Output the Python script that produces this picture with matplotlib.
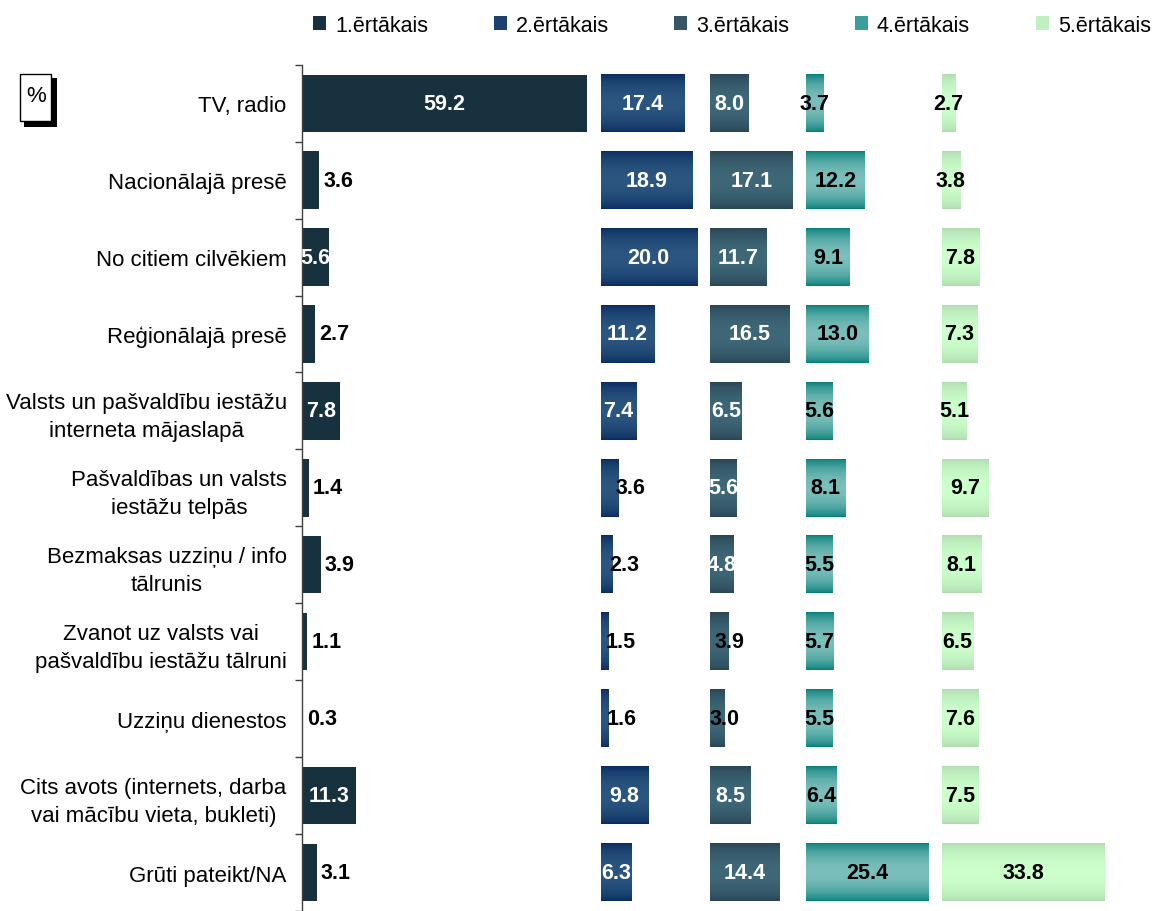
import numpy as np
import matplotlib
matplotlib.use("Agg")
import matplotlib.pyplot as plt
from matplotlib.colors import LinearSegmentedColormap
from matplotlib.patches import Patch, Rectangle

categories = [
    "TV, radio",
    "Nacionālajā presē",
    "No citiem cilvēkiem",
    "Reģionālajā presē",
    "Valsts un pašvaldību iestāžu\ninterneta mājaslapā",
    "Pašvaldības un valsts\niestāžu telpās",
    "Bezmaksas uzziņu / info\ntālrunis",
    "Zvanot uz valsts vai\npašvaldību iestāžu tālruni",
    "Uzziņu dienestos",
    "Cits avots (internets, darba\nvai mācību vieta, bukleti)",
    "Grūti pateikt/NA",
]
series_names = ["1.ērtākais", "2.ērtākais", "3.ērtākais", "4.ērtākais", "5.ērtākais"]
v1 = [59.2, 3.6, 5.6, 2.7, 7.8, 1.4, 3.9, 1.1, 0.3, 11.3, 3.1]
v2 = [17.4, 18.9, 20.0, 11.2, 7.4, 3.6, 2.3, 1.5, 1.6, 9.8, 6.3]
v3 = [8.0, 17.1, 11.7, 16.5, 6.5, 5.6, 4.8, 3.9, 3.0, 8.5, 14.4]
v4 = [3.7, 12.2, 9.1, 13.0, 5.6, 8.1, 5.5, 5.7, 5.5, 6.4, 25.4]
v5 = [2.7, 3.8, 7.8, 7.3, 5.1, 9.7, 8.1, 6.5, 7.6, 7.5, 33.8]
series = [v1, v2, v3, v4, v5]

# edge colour / middle colour of the vertical gradient
edge_cols = ["#17313f", "#0a2d5f", "#2a4555", "#07807a", "#b0ddb0"]
mid_cols = ["#17313f", "#2b5680", "#3e6878", "#7bbebb", "#ccffcc"]
legend_cols = ["#17313f", "#1a4170", "#345666", "#3a9f9a", "#c0efc0"]
# labels white and centred above this value, otherwise black
white_min = [5.0, 6.0, 4.5, 1e9, 1e9]
small_mode = ["left", "left", "end", "center", "center"]
gap = 2.75

W, H = 1157, 912
plt.rcParams["font.family"] = ["Liberation Sans", "DejaVu Sans"]
fig = plt.figure(figsize=(W / 100, H / 100), dpi=100)
ax = fig.add_axes([302 / W, 0, 855 / W, (H - 65.7) / H])

y = np.arange(len(categories))
bh = 0.745
grad_t = np.linspace(0, 1, 64)
grad = np.sin(np.pi * grad_t) ** 0.7
grad = grad.reshape(-1, 1)
vfs = 15.5

base = 0.0
for i, vals in enumerate(series):
    cmap = LinearSegmentedColormap.from_list("g%d" % i, [edge_cols[i], mid_cols[i]])
    bars = ax.barh(y, vals, left=base, height=bh, color=edge_cols[i], zorder=2)
    if i > 0:
        for b in bars:
            x0, y0 = b.get_x(), b.get_y()
            ax.imshow(grad, extent=[x0, x0 + b.get_width(), y0 + b.get_height(), y0],
                      cmap=cmap, vmin=0, vmax=1, aspect="auto", zorder=3,
                      interpolation="bilinear")
    for yy, v in zip(y, vals):
        txt = "%.1f" % v
        if v >= white_min[i]:
            ax.text(base + v / 2, yy, txt, color="white", fontsize=vfs, fontweight="bold",
                    ha="center", va="center", zorder=5)
        elif small_mode[i] == "left":
            off = 4 if i == 0 else -2
            ax.annotate(txt, (base + v, yy), xytext=(off * 0.72, 0), textcoords="offset points",
                        color="black", fontsize=vfs, fontweight="bold",
                        ha="left", va="center", zorder=5)
        elif small_mode[i] == "end":
            ax.text(base + v, yy, txt, color="black", fontsize=vfs, fontweight="bold",
                    ha="center", va="center", zorder=5)
        else:
            ax.text(base + v / 2, yy, txt, color="black", fontsize=vfs, fontweight="bold",
                    ha="center", va="center", zorder=5)
    base += max(vals) + gap

ax.set_xlim(0, 855 / 4.82)
ax.set_ylim(-0.5 + (H - 65.7) / 77.8, -0.5)
ax.set_yticks(y, labels=categories)
ax.set_yticks(np.arange(-0.5, len(categories), 1), minor=True)
for lab in ax.get_yticklabels():
    lab.set_multialignment("center")
    lab.set_linespacing(1.42)
ax.tick_params(axis="y", which="major", length=0, pad=11, labelsize=16)
ax.tick_params(axis="y", which="minor", length=5, width=1, color="#404040", direction="out")
ax.set_xticks([])
for s in ["top", "right", "bottom"]:
    ax.spines[s].set_visible(False)
ax.spines["left"].set_color("#404040")
ax.spines["left"].set_linewidth(1)

handles = [Patch(facecolor=c, edgecolor="none") for c in legend_cols]
fig.legend(handles, series_names, loc="center left", bbox_to_anchor=(313 / W, 1 - 26 / H),
           ncol=5, frameon=False, fontsize=15.5, handlelength=0.6, handleheight=0.65,
           handletextpad=0.42, columnspacing=3.05, borderpad=0, borderaxespad=0)

# "%" box with shadow
fig.patches.append(Rectangle((24 / W, 1 - 128 / H), 33 / W, 49 / H, transform=fig.transFigure,
                             facecolor="black", edgecolor="none", zorder=1))
fig.patches.append(Rectangle((20 / W, 1 - 122 / H), 31 / W, 47 / H, transform=fig.transFigure,
                             facecolor="white", edgecolor="black", lw=1, zorder=2))
fig.text(36 / W, 1 - 97 / H, "%", fontsize=16, ha="center", va="center", zorder=3)

fig.savefig("out.png", dpi=100)
